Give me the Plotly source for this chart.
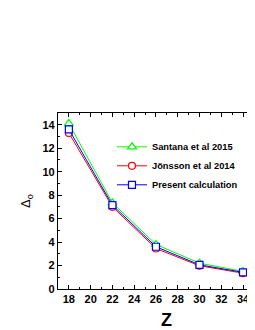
import plotly.graph_objects as go

Z = [18, 22, 26, 30, 34, 36]
santana = [14.1, 7.35, 3.8, 2.2, 1.5, 1.15]
jonsson = [13.3, 7.0, 3.45, 1.98, 1.35, 1.05]
present = [13.6, 7.15, 3.6, 2.06, 1.42, 1.1]
names = ["Santana et al 2015", "Jönsson et al 2014", "Present calculation"]

fig = go.Figure()
fig.add_trace(go.Scatter(x=Z, y=santana, name=names[0], mode="lines+markers",
                         line=dict(color="#00ff00", width=1),
                         marker=dict(symbol="triangle-up", size=8, color="white",
                                     line=dict(color="#00ff00", width=1.2))))
fig.add_trace(go.Scatter(x=Z, y=jonsson, name=names[1], mode="lines+markers",
                         line=dict(color="#ff0000", width=1),
                         marker=dict(symbol="circle", size=7, color="white",
                                     line=dict(color="#ff0000", width=1.2))))
fig.add_trace(go.Scatter(x=Z, y=present, name=names[2], mode="lines+markers",
                         line=dict(color="#0000ff", width=1),
                         marker=dict(symbol="square", size=7, color="white",
                                     line=dict(color="#0000ff", width=1.2))))

font = "Liberation Sans, Arial, sans-serif"
fig.update_layout(
    width=255, height=330,
    margin=dict(l=50, r=8, t=105, b=49, autoexpand=False),
    paper_bgcolor="white", plot_bgcolor="white",
    font=dict(family=font, color="black"),
    showlegend=True,
    legend=dict(x=0.274, y=0.70, xanchor="left", yanchor="middle",
                bgcolor="rgba(0,0,0,0)", font=dict(size=9.3, family=font, weight="bold"),
                itemwidth=30, tracegroupgap=0),
    xaxis=dict(range=[17, 35.1], tickmode="array", tickvals=[18, 20, 22, 24, 26, 28, 30, 32, 34],
               ticks="inside", ticklen=4, tickwidth=1, tickcolor="black",
               minor=dict(dtick=1, tick0=17, ticks="inside", ticklen=2, tickcolor="black"),
               showline=True, linecolor="black", linewidth=1.2, mirror="ticks",
               showgrid=False, zeroline=False, automargin=False,
               tickfont=dict(size=11, family=font, weight="bold")),
    yaxis=dict(range=[0, 15], dtick=2, tick0=0,
               ticks="inside", ticklen=4, tickwidth=1, tickcolor="black",
               minor=dict(dtick=1, tick0=0, ticks="inside", ticklen=2, tickcolor="black"),
               showline=True, linecolor="black", linewidth=1.2, mirror=False,
               showgrid=False, zeroline=False, automargin=False,
               tickfont=dict(size=11, family=font, weight="bold"),
               title=dict(text="Δ<sub>o</sub>", font=dict(size=13, family=font), standoff=8)),
    annotations=[dict(text="<b>Z</b>", xref="paper", yref="paper", x=0.553, y=-0.176,
                      xanchor="center", yanchor="middle", showarrow=False,
                      font=dict(size=18, family=font))],
)
fig.write_html("out.html")
